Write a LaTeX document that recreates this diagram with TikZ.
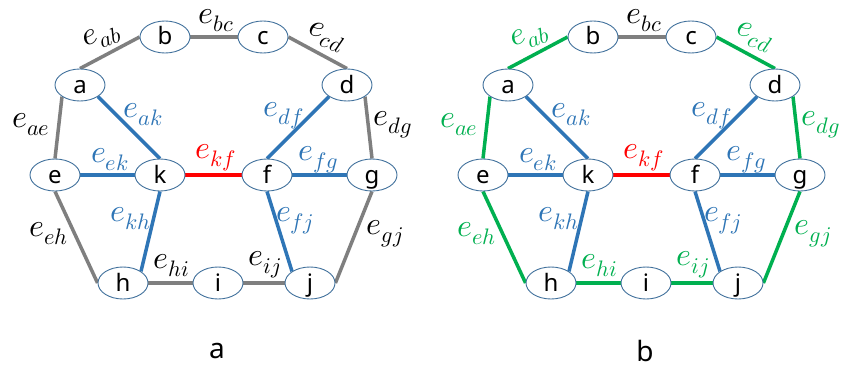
\documentclass[tikz,border=0pt]{standalone}
\usepackage{fontspec}
\usepackage{unicode-math}
\setmainfont{Noto Sans}
\setmathfont{Latin Modern Math}
\usetikzlibrary{shapes.geometric,backgrounds}
\definecolor{egray}{HTML}{7F7F7F}
\definecolor{eblue}{HTML}{2E75B6}
\definecolor{ered}{HTML}{FF0000}
\definecolor{egreen}{HTML}{00B050}
\definecolor{vborder}{HTML}{41719C}
\tikzset{
  vx/.style={ellipse, draw=vborder, line width=0.9pt, fill=white,
    minimum width=50pt, minimum height=32pt, inner sep=0pt,
    text height=18pt, text depth=2pt, font=\fontsize{24}{24}\selectfont},
  edg/.style={line width=3.5pt},
  lbl/.style={font=\fontsize{32}{32}\selectfont, inner sep=0pt},
  capt/.style={font=\fontsize{28}{28}\selectfont, inner sep=0pt}
}
\newcommand{\drawgraph}[4]{%
  \node[vx] (#1a) at (80,85) {a};
  \node[vx] (#1b) at (165,37) {b};
  \node[vx] (#1c) at (263,37) {c};
  \node[vx] (#1d) at (347,85) {d};
  \node[vx] (#1e) at (55,175) {e};
  \node[vx] (#1k) at (160,175) {k};
  \node[vx] (#1f) at (267,175) {f};
  \node[vx] (#1g) at (372,175) {g};
  \node[vx] (#1h) at (123,283) {h};
  \node[vx] (#1i) at (218,283) {i};
  \node[vx] (#1j) at (310,283) {j};
  \begin{scope}[on background layer]
    \draw[edg,#2] (#1a.north) -- (#1b.west);
    \draw[edg,egray] (#1b.east) -- (#1c.west);
    \draw[edg,#2] (#1c.east) -- (#1d.north);
    \draw[edg,#2] (#1a.south west) -- (#1e.north);
    \draw[edg,eblue] (#1a.south east) -- (#1k.north);
    \draw[edg,eblue] (#1d.south west) -- (#1f.north);
    \draw[edg,#2] (#1d.south east) -- (#1g.north);
    \draw[edg,eblue] (#1e.east) -- (#1k.west);
    \draw[edg,ered] (#1k.east) -- (#1f.west);
    \draw[edg,eblue] (#1f.east) -- (#1g.west);
    \draw[edg,#2] (#1e.south) -- (#1h.west);
    \draw[edg,eblue] (#1k.south) -- (#1h.north east);
    \draw[edg,eblue] (#1f.south) -- (#1j.north west);
    \draw[edg,#2] (#1g.south) -- (#1j.east);
    \draw[edg,#2] (#1h.east) -- (#1i.west);
    \draw[edg,#2] (#1i.east) -- (#1j.west);
  \end{scope}
  \node[lbl,text=#3,rotate=20] (#1lab) at (102,37) {$e_{ab}$};
  \node[lbl,text=black] (#1lbc) at (216,21) {$e_{bc}$};
  \node[lbl,text=#3,rotate=-20] (#1lcd) at (326,37) {$e_{cd}$};
  \node[lbl,text=#3] (#1lae) at (31,125) {$e_{ae}$};
  \node[lbl,text=eblue] (#1lak) at (143,115) {$e_{ak}$};
  \node[lbl,text=eblue] (#1ldf) at (284,116) {$e_{df}$};
  \node[lbl,text=#3] (#1ldg) at (393,125) {$e_{dg}$};
  \node[lbl,text=eblue] (#1lek) at (110,160) {$e_{ek}$};
  \node[lbl,text=ered] (#1lkf) at (216,158) {$e_{kf}$};
  \node[lbl,text=eblue] (#1lfg) at (318,160) {$e_{fg}$};
  \node[lbl,text=eblue] (#1lkh) at (131,219) {$e_{kh}$};
  \node[lbl,text=eblue] (#1lfj) at (295,221) {$e_{fj}$};
  \node[lbl,text=#3] (#1leh) at (49,234) {$e_{eh}$};
  \node[lbl,text=#3] (#1lgj) at (385,234) {$e_{gj}$};
  \node[lbl,text=#3] (#1lhi) at (172,266) {$e_{hi}$};
  \node[lbl,text=#3] (#1lij) at (265,265) {$e_{ij}$};
  \node[capt] (#1cap) at (217,351) {#4};
}
\begin{document}
\begin{tikzpicture}[x=1pt,y=-1pt]
  \useasboundingbox (0,0) rectangle (845,369);
  \begin{scope}[on background layer]
    \fill[white] (0,0) rectangle (845,369);
  \end{scope}
  \drawgraph{L}{egray}{black}{a}
  \begin{scope}[xshift=428pt]
    \drawgraph{R}{egreen}{egreen}{b}
  \end{scope}
\end{tikzpicture}
\end{document}
